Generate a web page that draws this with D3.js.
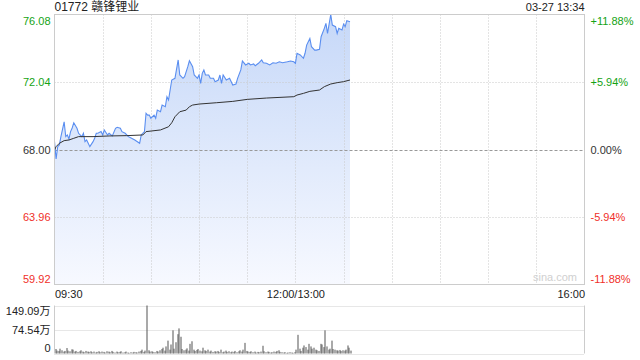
<!DOCTYPE html>
<html>
<head>
<meta charset="utf-8">
<script src="https://cdn.jsdelivr.net/npm/d3@7"></script>
<style>
  body { margin: 0; background: #fff; }
  svg text { font-family: "Liberation Sans", Arial, "Noto Sans CJK SC", sans-serif; }
</style>
</head>
<body>
<script>
// minute offsets from 09:30 (lunch break removed) and prices
const priceMinutes = [0,1,2,3,4,6,7,8,9,10,11,12,14,15,17,18,19,20,21,22,24,25,26,27,29,30,31,33,34,36,38,39,41,42,44,46,48,50,53,54,56,57,58,59,60,62,63,64,66,67,69,70,71,72,73,75,77,78,80,81,83,84,86,87,89,90,91,92,93,94,96,97,99,100,102,103,104,105,107,109,111,113,114,116,117,119,121,122,124,125,127,129,130,132,134,136,138,140,142,145,147,149,150,151,153,155,156,157,159,160,162,163,165,166,168,169,170,172,173,175,176,177,179,180,181,182,184];
const prices = [68.47,67.43,68.17,68.27,68.77,69.66,68.77,68.87,68.63,69.07,69.29,69.60,69.27,68.97,68.77,68.97,68.47,68.57,68.37,68.17,68.47,68.67,68.97,68.97,69.07,68.87,69.17,68.87,68.97,68.81,69.27,69.33,69.27,69.07,68.97,68.77,68.67,68.57,68.37,68.87,69.07,70.17,70.06,70.06,69.87,70.06,69.87,70.36,70.26,70.66,70.56,71.16,70.96,71.56,72.16,72.26,73.36,72.46,72.26,72.36,72.96,73.31,72.96,72.46,72.26,72.46,71.96,72.56,72.76,72.46,72.46,72.26,72.26,72.06,72.16,72.46,71.96,72.46,72.16,72.26,71.86,71.92,72.26,72.76,73.30,73.06,73.16,73.06,73.12,73.01,73.16,73.36,73.19,73.16,73.06,73.19,73.16,73.25,73.19,73.25,73.30,73.25,73.16,73.76,73.66,73.46,73.76,74.25,74.65,74.15,73.95,73.95,74.00,74.75,75.25,75.55,74.95,76.08,75.45,75.35,74.95,75.25,75.15,75.51,75.35,75.71,75.65];

const avgMinutes = [0,1,3,6,9,12,15,24,34,45,55,57,66,71,73,75,78,82,84,86,90,101,111,120,132,149,151,155,159,165,168,172,176,180,184];
const avgPrices = [67.97,68.17,68.37,68.53,68.57,68.67,68.77,68.77,68.81,68.83,68.87,69.07,69.17,69.36,69.60,69.96,70.26,70.36,70.56,70.66,70.72,70.80,70.88,71.00,71.08,71.16,71.26,71.36,71.48,71.56,71.76,71.92,72.00,72.06,72.16];

// volume per minute, in 万 shares
const volumes = [
  14,9,8,15,10,6,8,17,9,7,
  13,12,6,8,5,7,10,6,4,8,
  6,5,7,4,6,3,5,7,4,6,
  5,3,7,6,4,8,5,3,6,4,
  5,7,3,4,6,3,2,4,3,5,
  4,3,6,8,12,5,9,149.09,10,6,
  7,5,4,8,6,10,14,18,9,22,
  40,12,28,72,15,35,60,78,52,14,
  10,12,16,9,30,38,12,8,11,14,
  9,7,18,10,8,12,6,9,5,7,
  6,8,5,12,4,6,9,5,7,4,
  6,5,8,4,7,10,6,12,33,8,
  6,5,7,4,6,3,5,4,6,24,
  7,4,6,5,3,4,6,5,8,10,
  5,4,3,4,2,3,4,3,2,4,
  12,58,15,8,18,25,20,12,30,22,
  15,18,12,10,8,30,28,20,72,22,
  12,15,40,14,12,10,9,11,8,10,
  9,12,25,18,9
];

const prevClose = 68.00;
const priceTicks = [76.08, 72.04, 68.00, 63.96, 59.92];
const pctTicks = ["+11.88%", "+5.94%", "0.00%", "-5.94%", "-11.88%"];
const volTicks = [149.09, 74.54, 0];
const volTickLabels = ["149.09万", "74.54万", "0"];
const timeTicks = [0, 150, 330];
const timeLabels = ["09:30", "12:00/13:00", "16:00"];
const title = "01772 赣锋锂业";
const stamp = "03-27 13:34";

const w = 640, h = 360;
const plotLeft = 54.5, plotRight = 584.5;
const plotTop = 14.5, plotBottom = 284.5;
const volTop = 305.5, volBottom = 353.5;

const svg = d3.select("body").append("svg")
  .attr("width", w).attr("height", h);

const xScale = d3.scaleLinear().domain([0, 330]).range([plotLeft, plotRight]);
const yScale = d3.scaleLinear().domain([59.92, 76.08]).range([plotBottom, plotTop]);
const vScale = d3.scaleLinear().domain([0, 149.09]).range([volBottom, volTop]);

const colorOf = (v) => v > prevClose ? "#14a314" : (v < prevClose ? "#f0302a" : "#333");

// gradient for area
const defs = svg.append("defs");
const grad = defs.append("linearGradient").attr("id", "areaGrad")
  .attr("x1", 0).attr("y1", 0).attr("x2", 0).attr("y2", 1);
grad.append("stop").attr("offset", "0%").attr("stop-color", "#c6d8f8");
grad.append("stop").attr("offset", "100%").attr("stop-color", "#f7f9ff");

// area first, grid drawn on top of it
const pts = priceMinutes.map((m, i) => [m, prices[i]]);
const area = d3.area().x((d) => xScale(d[0])).y0(plotBottom).y1((d) => yScale(d[1]));
svg.append("path").datum(pts).attr("d", area).attr("fill", "url(#areaGrad)");

// vertical grid lines every 30 minutes
const vGrid = d3.range(30, 330, 30);
svg.append("g").selectAll("line").data(vGrid).enter().append("line")
  .attr("x1", (d) => Math.round(xScale(d)) + 0.5).attr("x2", (d) => Math.round(xScale(d)) + 0.5)
  .attr("y1", plotTop).attr("y2", plotBottom)
  .attr("stroke", "#c8c8c8").attr("stroke-dasharray", "1,2");

// horizontal grid lines
svg.append("g").selectAll("line").data([72.04, 63.96]).enter().append("line")
  .attr("x1", plotLeft).attr("x2", plotRight)
  .attr("y1", (d) => Math.round(yScale(d)) + 0.5).attr("y2", (d) => Math.round(yScale(d)) + 0.5)
  .attr("stroke", "#c8c8c8").attr("stroke-dasharray", "1,2");

// previous close line
svg.append("line")
  .attr("x1", plotLeft).attr("x2", plotRight)
  .attr("y1", Math.round(yScale(prevClose)) + 0.5).attr("y2", Math.round(yScale(prevClose)) + 0.5)
  .attr("stroke", "#999").attr("stroke-dasharray", "3,2");

const line = d3.line().x((d) => xScale(d[0])).y((d) => yScale(d[1]));
svg.append("path").datum(pts).attr("d", line)
  .attr("fill", "none").attr("stroke", "#5a8ef0").attr("stroke-width", 1.1);

const avgPts = avgMinutes.map((m, i) => [m, avgPrices[i]]);
svg.append("path").datum(avgPts).attr("d", line)
  .attr("fill", "none").attr("stroke", "#333").attr("stroke-width", 1);

// border
svg.append("rect").attr("x", plotLeft).attr("y", plotTop)
  .attr("width", plotRight - plotLeft).attr("height", plotBottom - plotTop)
  .attr("fill", "none").attr("stroke", "#cccccc");

// axis labels
const leftAxis = d3.axisLeft(yScale).tickValues(priceTicks).tickSize(0).tickPadding(4)
  .tickFormat((d) => d.toFixed(2));
const gl = svg.append("g").attr("transform", "translate(" + plotLeft + ",0)").call(leftAxis);
gl.select(".domain").remove();
gl.selectAll("text").attr("font-size", 11)
  .attr("fill", (d) => colorOf(d))
  .attr("y", (d, i) => i === 0 ? 6 : (i === priceTicks.length - 1 ? -6 : 0));

const rightAxis = d3.axisRight(yScale).tickValues(priceTicks).tickSize(0).tickPadding(6)
  .tickFormat((d, i) => pctTicks[i]);
const gr = svg.append("g").attr("transform", "translate(" + plotRight + ",0)").call(rightAxis);
gr.select(".domain").remove();
gr.selectAll("text").attr("font-size", 11)
  .attr("fill", (d) => colorOf(d))
  .attr("y", (d, i) => i === 0 ? 6 : (i === priceTicks.length - 1 ? -6 : 0));

// title & time stamp
svg.append("text").attr("x", plotLeft).attr("y", 11).attr("font-size", 12).attr("fill", "#222").text(title);
svg.append("text").attr("x", plotRight).attr("y", 11).attr("text-anchor", "end")
  .attr("font-size", 11).attr("fill", "#222").text(stamp);

// watermark
svg.append("text").attr("x", 577).attr("y", 281).attr("text-anchor", "end")
  .attr("font-size", 11).attr("fill", "#d0d0d0").text("sina.com");

// time labels
const xAxis = d3.axisBottom(xScale).tickValues(timeTicks).tickSize(0).tickPadding(6)
  .tickFormat((d, i) => timeLabels[i]);
const gx = svg.append("g").attr("transform", "translate(0," + plotBottom + ")").call(xAxis);
gx.select(".domain").remove();
gx.selectAll("text").attr("font-size", 11).attr("fill", "#222")
  .attr("text-anchor", (d, i) => i === 0 ? "start" : (i === timeTicks.length - 1 ? "end" : "middle"));

// volume panel
svg.append("g").selectAll("line").data(volTicks).enter().append("line")
  .attr("x1", plotLeft).attr("x2", plotRight)
  .attr("y1", (d) => Math.round(vScale(d)) + 0.5).attr("y2", (d) => Math.round(vScale(d)) + 0.5)
  .attr("stroke", "#cfcfcf").attr("stroke-dasharray", "1,1");
svg.append("line").attr("x1", plotLeft).attr("x2", plotLeft).attr("y1", volTop).attr("y2", volBottom).attr("stroke", "#cccccc");
svg.append("line").attr("x1", plotRight).attr("x2", plotRight).attr("y1", volTop).attr("y2", volBottom).attr("stroke", "#cccccc");

svg.append("g").selectAll("rect").data(volumes).enter().append("rect")
  .attr("x", (d, i) => Math.round(xScale(i)) + 0.5)
  .attr("y", (d) => vScale(d))
  .attr("width", 1)
  .attr("height", (d) => volBottom - vScale(d))
  .attr("fill", "#555");

const volAxis = d3.axisLeft(vScale).tickValues(volTicks).tickSize(0).tickPadding(4)
  .tickFormat((d, i) => volTickLabels[i]);
const gv = svg.append("g").attr("transform", "translate(" + plotLeft + ",0)").call(volAxis);
gv.select(".domain").remove();
gv.selectAll("text").attr("font-size", 11).attr("fill", "#222")
  .attr("y", (d, i) => i === 0 ? 5 : (i === volTicks.length - 1 ? -6 : 0));
</script>
</body>
</html>
